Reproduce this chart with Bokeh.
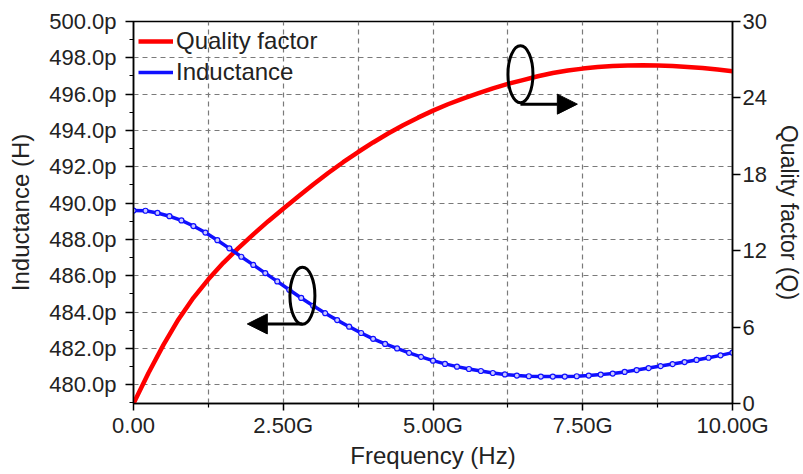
from bokeh.plotting import figure
from bokeh.models import (Range1d, LinearAxis, FixedTicker, CustomJSTickFormatter,
                          Grid, Arrow, NormalHead, Legend)
from bokeh.embed import file_html
from bokeh.resources import INLINE

# ---------------- data ----------------
freq_L = [0.0, 0.2, 0.4, 0.6, 0.8, 1.0, 1.2, 1.4, 1.6, 1.8,
          2.0, 2.2, 2.4, 2.6, 2.8, 3.0, 3.2, 3.4, 3.6, 3.8,
          4.0, 4.2, 4.4, 4.6, 4.8, 5.0, 5.2, 5.4, 5.6, 5.8,
          6.0, 6.2, 6.4, 6.6, 6.8, 7.0, 7.2, 7.4, 7.6, 7.8,
          8.0, 8.2, 8.4, 8.6, 8.8, 9.0, 9.2, 9.4, 9.6, 9.8, 10.0]
inductance_pH = [489.59, 489.58, 489.46, 489.28, 489.05, 488.74, 488.38, 487.96, 487.51, 487.05,
                 486.60, 486.15, 485.69, 485.23, 484.78, 484.35, 483.94, 483.56, 483.20, 482.85,
                 482.53, 482.25, 482.00, 481.76, 481.54, 481.33, 481.15, 481.00, 480.87, 480.76,
                 480.65, 480.57, 480.51, 480.47, 480.45, 480.45, 480.45, 480.47, 480.51, 480.56,
                 480.62, 480.71, 480.81, 480.92, 481.03, 481.14, 481.25, 481.37, 481.49, 481.62, 481.77]

freq_Q = [0.0, 0.25, 0.5, 0.75, 1.0, 1.25, 1.5, 1.75, 2.0, 2.25,
          2.5, 2.75, 3.0, 3.25, 3.5, 3.75, 4.0, 4.25, 4.5, 4.75,
          5.0, 5.25, 5.5, 5.75, 6.0, 6.25, 6.5, 6.75, 7.0, 7.25,
          7.5, 7.75, 8.0, 8.25, 8.5, 8.75, 9.0, 9.25, 9.5, 9.75, 10.0]
quality = [0.0, 2.4, 4.6, 6.6, 8.3, 9.75, 11.05, 12.2, 13.28, 14.32,
           15.3, 16.25, 17.2, 18.1, 18.95, 19.75, 20.5, 21.2, 21.85, 22.45,
           23.0, 23.5, 23.95, 24.35, 24.75, 25.1, 25.4, 25.7, 25.95, 26.15,
           26.3, 26.42, 26.5, 26.55, 26.57, 26.55, 26.5, 26.43, 26.35, 26.23, 26.1]

x_ticks = [0, 2.5, 5, 7.5, 10]
x_tick_labels = ["0.00", "2.50G", "5.00G", "7.50G", "10.00G"]
x_minor = [1.25, 3.75, 6.25, 8.75]
x_grid = [1.25, 2.5, 3.75, 5, 6.25, 7.5, 8.75]
y_ticks = [480, 482, 484, 486, 488, 490, 492, 494, 496, 498, 500]
y_tick_labels = ["480.0p", "482.0p", "484.0p", "486.0p", "488.0p", "490.0p",
                 "492.0p", "494.0p", "496.0p", "498.0p", "500.0p"]
y_minor = [479, 481, 483, 485, 487, 489, 491, 493, 495, 497, 499]
q_ticks = [0, 6, 12, 18, 24, 30]

# annotation anchors (data units): ellipse centre and arrow ends
ann_Q = dict(cx=6.46, cy=497.1, ax_end=7.41, ay=495.45)
ann_L = dict(cx=2.82, cy=484.9, ax_end=1.90, ay=483.35)

FONT = "Liberation Sans"
TXT = "#222222"

p = figure(frame_width=599, frame_height=382, output_backend="svg", toolbar_location=None,
           x_range=Range1d(0, 10), y_range=Range1d(478.97, 500),
           min_border_left=133, min_border_right=70, min_border_top=21, min_border_bottom=70,
           background_fill_color="white", border_fill_color="white")
p.extra_y_ranges = {"q": Range1d(0, 30)}
p.outline_line_color = "black"
p.outline_line_width = 1.5

p.xgrid.visible = False
p.ygrid.visible = False

xg = Grid(dimension=0, ticker=FixedTicker(ticks=x_grid), grid_line_color="#7a7a7a",
          grid_line_dash="5 4", grid_line_width=1.2)
yg = Grid(dimension=1, ticker=FixedTicker(ticks=y_ticks[:-1]), grid_line_color="#7a7a7a",
          grid_line_dash="5 4", grid_line_width=1.2)
p.add_layout(xg)
p.add_layout(yg)


def style_axis(ax):
    ax.axis_line_color = "black"
    ax.axis_line_width = 1.5
    ax.major_tick_line_color = "black"
    ax.minor_tick_line_color = "black"
    ax.major_tick_line_width = 1.5
    ax.minor_tick_line_width = 1.2
    ax.major_tick_in = 0
    ax.minor_tick_in = 0
    ax.major_tick_out = 8
    ax.minor_tick_out = 4
    ax.major_label_text_font = FONT
    ax.major_label_text_font_size = "22px"
    ax.major_label_text_color = TXT
    ax.axis_label_text_font = FONT
    ax.axis_label_text_font_size = "24px"
    ax.axis_label_text_font_style = "normal"
    ax.axis_label_text_color = TXT


xa = p.xaxis[0]
xa.ticker = FixedTicker(ticks=x_ticks, minor_ticks=x_minor)
xa.formatter = CustomJSTickFormatter(args=dict(t=x_ticks, l=x_tick_labels),
                                     code="const i = t.indexOf(tick); return i >= 0 ? l[i] : '';")
xa.axis_label = "Frequency (Hz)"
style_axis(xa)
xa.major_tick_out = 7
xa.minor_tick_out = 4
xa.major_label_standoff = 2
xa.axis_label_standoff = 1

ya = p.yaxis[0]
ya.ticker = FixedTicker(ticks=y_ticks, minor_ticks=y_minor)
ya.formatter = CustomJSTickFormatter(args=dict(t=y_ticks, l=y_tick_labels),
                                     code="const i = t.indexOf(tick); return i >= 0 ? l[i] : '';")
ya.axis_label = "Inductance (H)"
style_axis(ya)
ya.major_label_standoff = 9
ya.axis_label_standoff = 12

qa = LinearAxis(y_range_name="q", ticker=FixedTicker(ticks=q_ticks, minor_ticks=[]),
                axis_label="Quality factor (Q)")
style_axis(qa)
qa.axis_label_text_font_size = "23px"
qa.major_label_standoff = 2
qa.axis_label_standoff = 6
p.add_layout(qa, "right")

# ---------------- series ----------------
rq = p.line(freq_Q, quality, y_range_name="q", line_color="#ff0000", line_width=4.5)
rl = p.line(freq_L, inductance_pH, line_color="#1010ff", line_width=3.5)
rs = p.scatter(freq_L, inductance_pH, marker="circle", size=5, line_color="#1010ff",
               fill_color="#c8c8ff", line_width=1.2)

legend = Legend(items=[("Quality factor", [rq]), ("Inductance", [rl])],
                location="top_left", border_line_color=None, background_fill_alpha=0,
                label_text_font=FONT, label_text_font_size="24px", label_text_color=TXT,
                glyph_width=35, glyph_height=30, label_height=30, label_standoff=3,
                spacing=1, padding=0, margin=5)
p.add_layout(legend)

# ---------------- annotations ----------------
for a in (ann_Q, ann_L):
    p.ellipse(x=[a["cx"]], y=[a["cy"]], width=[25], height=[57],
              width_units="screen", height_units="screen",
              fill_color=None, line_color="black", line_width=3)
    p.add_layout(Arrow(end=NormalHead(size=20, fill_color="black", line_color="black"),
                       x_start=a["cx"], y_start=a["ay"], x_end=a["ax_end"], y_end=a["ay"],
                       line_color="black", line_width=3))

open("out.html", "w").write(file_html(p, INLINE))
